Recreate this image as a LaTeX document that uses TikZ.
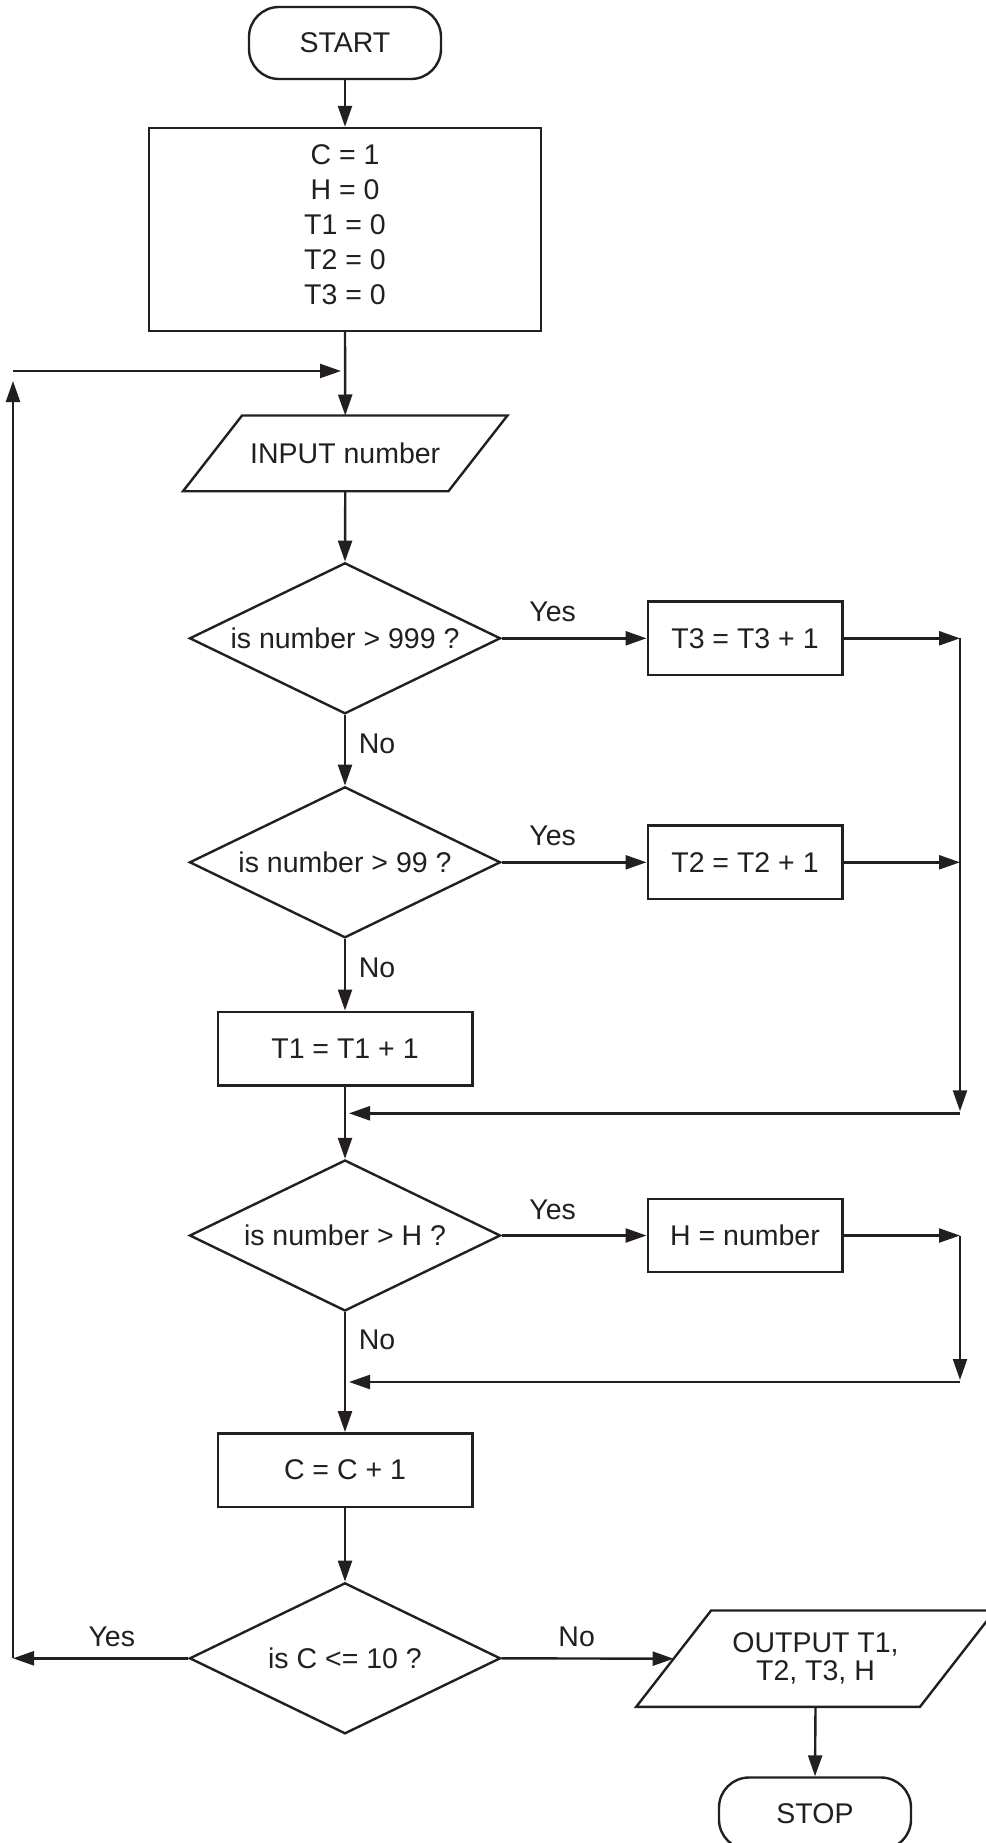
\documentclass[tikz,border=0pt]{standalone}
\usepackage{fontspec}
\setmainfont{Liberation Sans}
\usetikzlibrary{arrows.meta,shapes.geometric,calc}
\definecolor{ink}{HTML}{231F20}
\begin{document}
\begin{tikzpicture}[x=1pt,y=-1pt, line width=2.4pt, color=ink,
  every node/.style={font=\fontsize{28.5pt}{35pt}\selectfont},
  box/.style={draw, rectangle, inner sep=0pt},
  term/.style={draw, rectangle, rounded corners=30pt, minimum width=192pt, minimum height=72pt, inner sep=0pt},
  dec/.style={draw, diamond, aspect=2.06, inner sep=0pt, minimum width=311pt, minimum height=151pt},
  io/.style={rectangle, inner sep=0pt},
  arr/.style={-{Triangle[length=21pt,width=14pt]}},
  lab/.style={inner sep=0pt}]
\useasboundingbox (0,0) rectangle (985,1843);
% nodes
\node[term] (start) at (345,43) {START};
\node[box, minimum width=392pt, minimum height=203pt] (init) at (345,229.5) {};
\node[lab, align=center] (initt) at (345,225) {C = 1\\H = 0\\T1 = 0\\T2 = 0\\T3 = 0};
\node[io, minimum width=263pt, minimum height=73.3pt] (inp) at (345.25,453.35) {INPUT number};
\draw ($(inp.north west)+(29.5,0)$) -- ($(inp.north east)+(29.5,0)$) -- ($(inp.south east)+(-29.5,0)$) -- ($(inp.south west)+(-29.5,0)$) -- cycle;
\node[dec] (d1) at (345,638.3) {is number > 999 ?};
\node[dec] (d2) at (345,862.3) {is number > 99 ?};
\node[box, minimum width=194.6pt, minimum height=73.3pt] (t3) at (745,638.3) {T3 = T3 + 1};
\node[box, minimum width=194.6pt, minimum height=73.3pt] (t2) at (745,862.3) {T2 = T2 + 1};
\node[box, minimum width=254.6pt, minimum height=73.6pt] (t1) at (345,1048.5) {T1 = T1 + 1};
\node[dec] (d3) at (345,1235.5) {is number > H ?};
\node[box, minimum width=194.6pt, minimum height=73.3pt] (hb) at (745,1235.5) {H = number};
\node[box, minimum width=254.6pt, minimum height=73.4pt] (cb) at (345,1470) {C = C + 1};
\node[dec] (d4) at (345,1658.3) {is C <= 10 ?};
\node[io, minimum width=281.4pt, minimum height=94pt, align=center, font=\fontsize{28.5pt}{28pt}\selectfont] (out) at (815.5,1658.7) {OUTPUT T1,\\T2, T3, H};
\draw ($(out.north west)+(37.5,0)$) -- ($(out.north east)+(37.5,0)$) -- ($(out.south east)+(-37.5,0)$) -- ($(out.south west)+(-37.5,0)$) -- cycle;
\node[term] (stop) at (815,1813.5) {STOP};
% labels
\node[lab] (y1) at (552.7,611.7) {Yes};
\node[lab] (y2) at (552.7,835.7) {Yes};
\node[lab] (y3) at (552.7,1210) {Yes};
\node[lab] (y4) at (111.8,1636.7) {Yes};
\node[lab] (n1) at (377,744) {No};
\node[lab] (n2) at (377,968) {No};
\node[lab] (n3) at (377,1340) {No};
\node[lab] (n4) at (576.7,1636.7) {No};
% coordinates
\coordinate (j0) at (345,371);
\coordinate (l2) at (13,371);
\coordinate (l1) at (13,1658.3);
\coordinate (r1) at (960,638.3);
\coordinate (r2) at (960,862.3);
\coordinate (r3) at (960,1113.3);
\coordinate (j1) at (345,1113.3);
\coordinate (r4) at (960,1235.5);
\coordinate (r5) at (960,1382);
\coordinate (j2) at (345,1382);
% connectors
\draw[arr] (start.south) -- (init.north);
\draw[arr] (init.south) -- (inp.north);
\draw[arr, shorten >=4pt] (l2) -- (j0);
\draw[arr, shorten >=10pt] (l1) -- (l2);
\draw[arr] (d4.west) -- (l1);
\draw[arr] (inp.south) -- (d1.north);
\draw[arr] (d1.east) -- (t3.west);
\draw[arr] (t3.east) -- (r1);
\draw[arr] (t2.east) -- (r2);
\draw[arr, shorten >=2pt] (r1) -- (r3);
\draw[arr, shorten >=4pt] (r3) -- (j1);
\draw[arr] (d1.south) -- (d2.north);
\draw[arr] (d2.east) -- (t2.west);
\draw[arr] (d2.south) -- (t1.north);
\draw[arr] (t1.south) -- (d3.north);
\draw[arr] (d3.east) -- (hb.west);
\draw[arr] (hb.east) -- (r4);
\draw[arr, shorten >=2pt] (r4) -- (r5);
\draw[arr, shorten >=4pt] (r5) -- (j2);
\draw[arr] (d3.south) -- (cb.north);
\draw[arr] (cb.south) -- (d4.north);
\draw[arr] (d4.east) -- (out.west);
\draw[arr] (out.south) -- (stop.north);
\end{tikzpicture}
\end{document}
